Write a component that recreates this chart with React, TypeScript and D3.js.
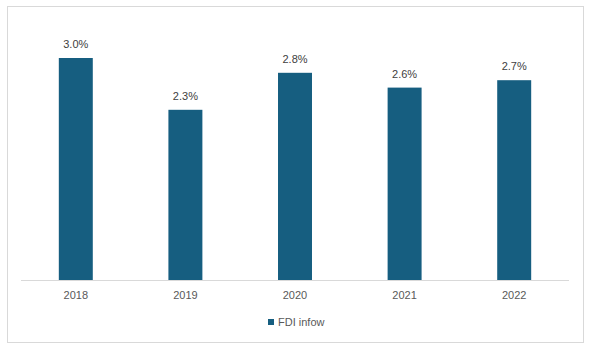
import React from "react";
import * as d3 from "d3";

const categories = ["2018", "2019", "2020", "2021", "2022"];
const values = [3.0, 2.3, 2.8, 2.6, 2.7];
const seriesName = "FDI infow";

export default function App() {
  const W = 594, H = 353;
  const x = d3.scaleBand<string>().domain(categories).range([21, 569]).paddingInner(0.69).paddingOuter(0.345);
  const y = d3.scaleLinear().domain([0, 3.5]).range([280, 21]);
  const color = "#165E80";
  const font = "'Liberation Sans', Arial, sans-serif";
  return (
    <svg width={W} height={H} style={{ position: "absolute", left: 0, top: 0 }}>
      <rect x={7.5} y={6.5} width={576} height={336} fill="#fff" stroke="#d9d9d9" strokeWidth={1} />
      {categories.map((c, i) => (
        <g key={c}>
          <rect x={x(c)} y={y(values[i])} width={x.bandwidth()} height={y(0) - y(values[i])} fill={color} />
          <text x={(x(c) as number) + x.bandwidth() / 2} y={y(values[i]) - 10} textAnchor="middle" fontFamily={font} fontSize={11} fill="#404040">
            {values[i].toFixed(1) + "%"}
          </text>
          <text x={(x(c) as number) + x.bandwidth() / 2} y={299} textAnchor="middle" fontFamily={font} fontSize={11} fill="#595959">
            {c}
          </text>
        </g>
      ))}
      <line x1={21} x2={569} y1={280.5} y2={280.5} stroke="#d9d9d9" strokeWidth={1} />
      <rect x={268} y={319} width={6} height={6} fill={color} />
      <text x={278} y={326} fontFamily={font} fontSize={11} fill="#595959">{seriesName}</text>
    </svg>
  );
}
